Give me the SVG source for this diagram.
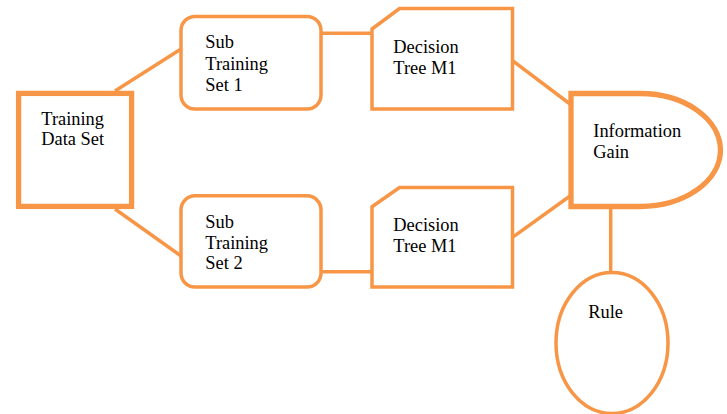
<svg xmlns="http://www.w3.org/2000/svg" width="727" height="414" viewBox="0 0 727 414">
<style>
.s{fill:#fff;stroke:#F79646;stroke-width:3.5}
.b{fill:#fff;stroke:#F79646;stroke-width:5.3}
.c{fill:none;stroke:#F79646;stroke-width:3.5}
text{font-family:"Liberation Serif","Times New Roman",serif;font-size:18.4px;fill:#000}
</style>
<rect width="727" height="414" fill="#fff"/>
<g id="connectors">
<line class="c" x1="115" y1="91" x2="181" y2="49"/>
<line class="c" x1="115" y1="209" x2="181" y2="256"/>
<line class="c" x1="321" y1="33.3" x2="372" y2="33.3"/>
<line class="c" x1="321" y1="271.7" x2="372" y2="271.7"/>
<line class="c" x1="512.5" y1="60.7" x2="570" y2="104"/>
<line class="c" x1="512.5" y1="237.3" x2="570" y2="196"/>
<line class="c" x1="610.7" y1="207" x2="610.7" y2="272"/>
</g>
<g id="training">
<rect class="b" x="18.6" y="93.4" width="113" height="113"/>
<text x="41.3" y="125">Training</text>
<text x="41.3" y="145">Data Set</text>
</g>
<g id="sub1">
<rect class="s" x="181" y="16.5" width="140" height="92.5" rx="14"/>
<text x="205.3" y="48.3">Sub</text>
<text x="205.3" y="70.3">Training</text>
<text x="205.3" y="90.7">Set 1</text>
</g>
<g id="sub2">
<rect class="s" x="181" y="195.8" width="140" height="91.2" rx="14"/>
<text x="205.3" y="227.7">Sub</text>
<text x="205.3" y="249.3">Training</text>
<text x="205.3" y="269.3">Set 2</text>
</g>
<g id="dt1">
<path class="s" d="M372,29 L399.5,8.5 H512.5 V109 H372 Z"/>
<text x="393.3" y="53.3">Decision</text>
<text x="393.3" y="74">Tree M1</text>
</g>
<g id="dt2">
<path class="s" d="M372,206.7 L399.5,187.5 H512.5 V287 H372 Z"/>
<text x="393.3" y="231">Decision</text>
<text x="393.3" y="252.3">Tree M1</text>
</g>
<g id="infogain">
<path class="b" d="M571,93.5 H640 A80.5,56.5 0 0 1 640,206.5 H571 Z"/>
<text x="593.3" y="136.7">Information</text>
<text x="593.3" y="158.3">Gain</text>
</g>
<g id="rule">
<ellipse class="s" cx="612" cy="343" rx="56" ry="70.5"/>
<text x="588.3" y="318.3">Rule</text>
</g>
</svg>
